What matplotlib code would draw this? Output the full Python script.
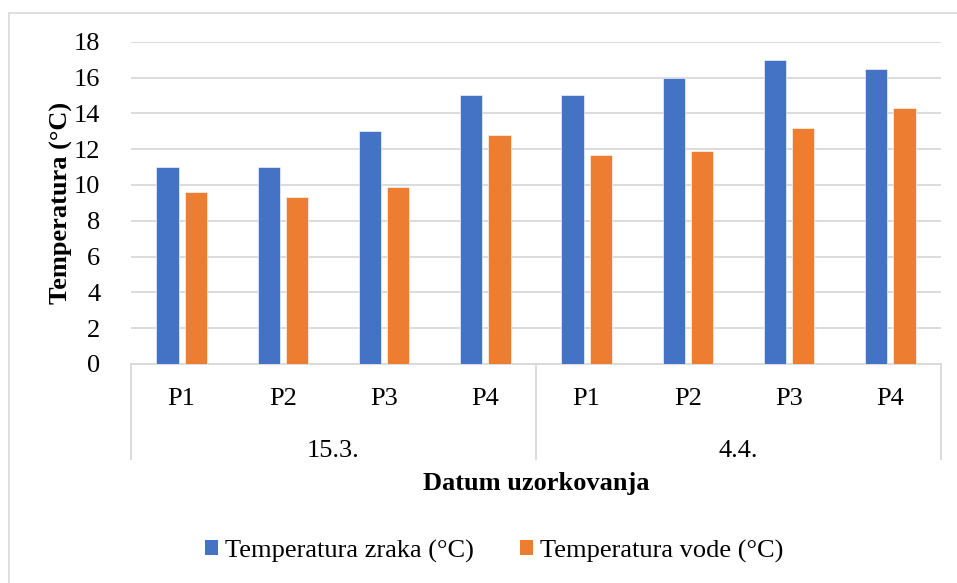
import matplotlib
matplotlib.use("Agg")
import matplotlib.pyplot as plt
from matplotlib.patches import Rectangle, Patch
import matplotlib.transforms as mtransforms

points = ["P1", "P2", "P3", "P4", "P1", "P2", "P3", "P4"]
dates = ["15.3.", "4.4."]
air_temp = [11, 11, 13, 15, 15, 16, 17, 16.5]
water_temp = [9.6, 9.3, 9.9, 12.8, 11.7, 11.9, 13.2, 14.3]
series_names = ["Temperatura zraka (°C)", "Temperatura vode (°C)"]
y_ticks = [0, 2, 4, 6, 8, 10, 12, 14, 16, 18]

BLUE = "#4472C4"
ORANGE = "#ED7D31"
GRID = "#D9D9D9"
FS = 19

plt.rcParams["font.family"] = ["Liberation Serif", "DejaVu Serif"]

W, H = 957, 583
fig = plt.figure(figsize=(W / 100, H / 100), dpi=100)

# chart border
fig.patches.append(Rectangle((9 / W, -0.05), 1.2, 1 - 13 / H + 0.05,
                             transform=fig.transFigure, fill=False,
                             edgecolor=GRID, linewidth=1.2))

left, right = 131 / W, 941 / W
bottom, top = 1 - 364 / H, 1 - 41.7 / H
ax = fig.add_axes([left, bottom, right - left, top - bottom])

x = list(range(len(points)))
bw = 0.22
off = 0.14
ax.bar([i - off for i in x], air_temp, width=bw, color=BLUE, zorder=3,
       edgecolor="white", linewidth=0.4, label=series_names[0])
ax.bar([i + off for i in x], water_temp, width=bw, color=ORANGE, zorder=3,
       edgecolor="white", linewidth=0.4, label=series_names[1])

ax.set_xlim(-0.5, len(points) - 0.5)
ax.set_ylim(0, 18)
ax.set_yticks(y_ticks)
ax.set_yticklabels([str(t) for t in y_ticks], fontsize=FS)
ax.tick_params(axis="y", length=0, pad=22)
ax.set_xticks([])
ax.yaxis.grid(True, color=GRID, linewidth=1.3, zorder=0)
for s in ["top", "right", "left"]:
    ax.spines[s].set_visible(False)
ax.spines["bottom"].set_color(GRID)
ax.spines["bottom"].set_linewidth(1.3)

ax_h = (top - bottom) * H  # pixels
def ay(py):
    return (364 - py) / ax_h

trans = mtransforms.blended_transform_factory(ax.transData, ax.transAxes)
# separators
for xs in [-0.5, 3.5, 7.5]:
    ax.plot([xs, xs], [0, ay(459)], transform=trans, color=GRID,
            linewidth=1.3, clip_on=False)
for i, p in enumerate(points):
    ax.text(i, ay(405), p, transform=trans, ha="center", va="baseline",
            fontsize=FS)
for j, d in enumerate(dates):
    ax.text(1.5 + 4 * j, ay(457), d, transform=trans, ha="center",
            va="baseline", fontsize=FS)

fig.text((131 + 941) / 2 / W, 1 - 490 / H, "Datum uzorkovanja", ha="center",
         va="baseline", fontsize=FS, fontweight="bold")
fig.text(61 / W, 1 - 203 / H, "Temperatura (°C)", ha="center", va="center",
         rotation=90, fontsize=FS, fontweight="bold")

handles = [Patch(facecolor=BLUE), Patch(facecolor=ORANGE)]
fig.legend(handles, series_names, loc="center", bbox_to_anchor=(494 / W, 1 - 551 / H),
           ncol=2, frameon=False, fontsize=FS, handlelength=0.5,
           handleheight=0.5, handletextpad=0.25, columnspacing=1.75)

fig.savefig("out.png", dpi=100)
